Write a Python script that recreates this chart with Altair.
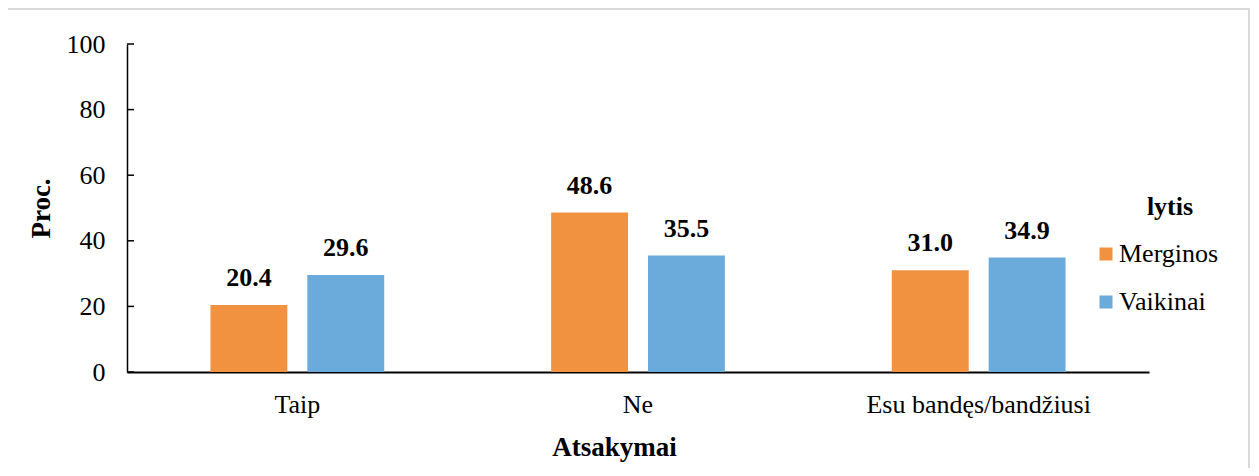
import altair as alt
import pandas as pd

categories = ["Taip", "Ne", "Esu bandęs/bandžiusi"]
groups = ["Merginos", "Vaikinai"]
merginos = [20.4, 48.6, 31.0]
vaikinai = [29.6, 35.5, 34.9]
y_ticks = [0, 20, 40, 60, 80, 100]
colors = ["#F19240", "#6AABDB"]
legend_title = ["lytis"]

rows = []
for c, m, v in zip(categories, merginos, vaikinai):
    rows.append({"cat": c, "lytis": "Merginos", "value": m})
    rows.append({"cat": c, "lytis": "Vaikinai", "value": v})
df = pd.DataFrame(rows)
ticks_df = pd.DataFrame({"value": y_ticks})

FONT = "Liberation Serif"
W, H = 1022, 328

x_enc = alt.X("cat:N", sort=categories,
              scale=alt.Scale(paddingInner=0.49, paddingOuter=0.245),
              axis=alt.Axis(title="Atsakymai", labelAngle=0, ticks=False,
                            domainColor="black", domainWidth=2, labelLimit=0,
                            labelFont=FONT, labelFontSize=26, labelColor="black",
                            labelPadding=19,
                            titleFont=FONT, titleFontSize=27, titleFontWeight="bold",
                            titleColor="black", titleX=487, titleY=75,
                            titleAlign="center", titleBaseline="middle"))
y_enc = alt.Y("value:Q", scale=alt.Scale(domain=[0, 100], nice=False),
              axis=alt.Axis(values=y_ticks, title="Proc.", grid=False, tickSize=0,
                            domainColor="black", domainWidth=1.5,
                            labelFont=FONT, labelFontSize=26, labelColor="black",
                            labelPadding=22,
                            titleFont=FONT, titleFontSize=27, titleFontWeight="bold",
                            titleColor="black", titleX=-86, titleY=164,
                            titleAngle=270, titleAlign="center", titleBaseline="middle"))
xoff = alt.XOffset("lytis:N", sort=groups,
                   scale=alt.Scale(paddingInner=0.206, paddingOuter=0))

frame = alt.Chart(pd.DataFrame({"a": [0]})).mark_rect(
    fillOpacity=0, stroke="#d9d9d9", strokeWidth=2
).encode(x=alt.value(-120), x2=alt.value(1122), y=alt.value(-35), y2=alt.value(445))

tick_rules = alt.Chart(ticks_df).mark_rule(color="black", strokeWidth=1.5).encode(
    y=alt.Y("value:Q"), x=alt.value(0), x2=alt.value(7)
)

bars = alt.Chart(df).mark_bar().encode(
    x=x_enc, y=y_enc, xOffset=xoff,
    color=alt.Color("lytis:N", sort=groups,
                    scale=alt.Scale(domain=groups, range=colors),
                    legend=alt.Legend(title=None, orient="none", legendX=966, legendY=197,
                                      labelFont=FONT, labelFontSize=26, labelColor="black",
                                      symbolType="square", symbolSize=169, symbolStrokeWidth=0,
                                      rowPadding=22, labelOffset=0, padding=0))
)

legend_head = alt.Chart(pd.DataFrame({"t": legend_title})).mark_text(
    font=FONT, fontSize=26, fontWeight="bold", color="black",
    align="center", baseline="alphabetic"
).encode(text="t:N", x=alt.value(1043), y=alt.value(171))

labels = alt.Chart(df).mark_text(
    font=FONT, fontSize=26, fontWeight="bold", color="black", baseline="alphabetic", dy=-19
).encode(x=alt.X("cat:N", sort=categories), y="value:Q", xOffset=xoff,
         text=alt.Text("value:Q", format=".1f"))

chart = alt.layer(frame, tick_rules, bars, labels, legend_head).properties(
    width=W, height=H, autosize=alt.AutoSizeParams(type="none"),
    padding={"left": 119, "top": 36, "right": 102, "bottom": 96},
    background="white"
).configure_view(stroke="transparent", strokeWidth=0)

chart.save("out.html", embed_options={"renderer": "svg", "actions": False})
